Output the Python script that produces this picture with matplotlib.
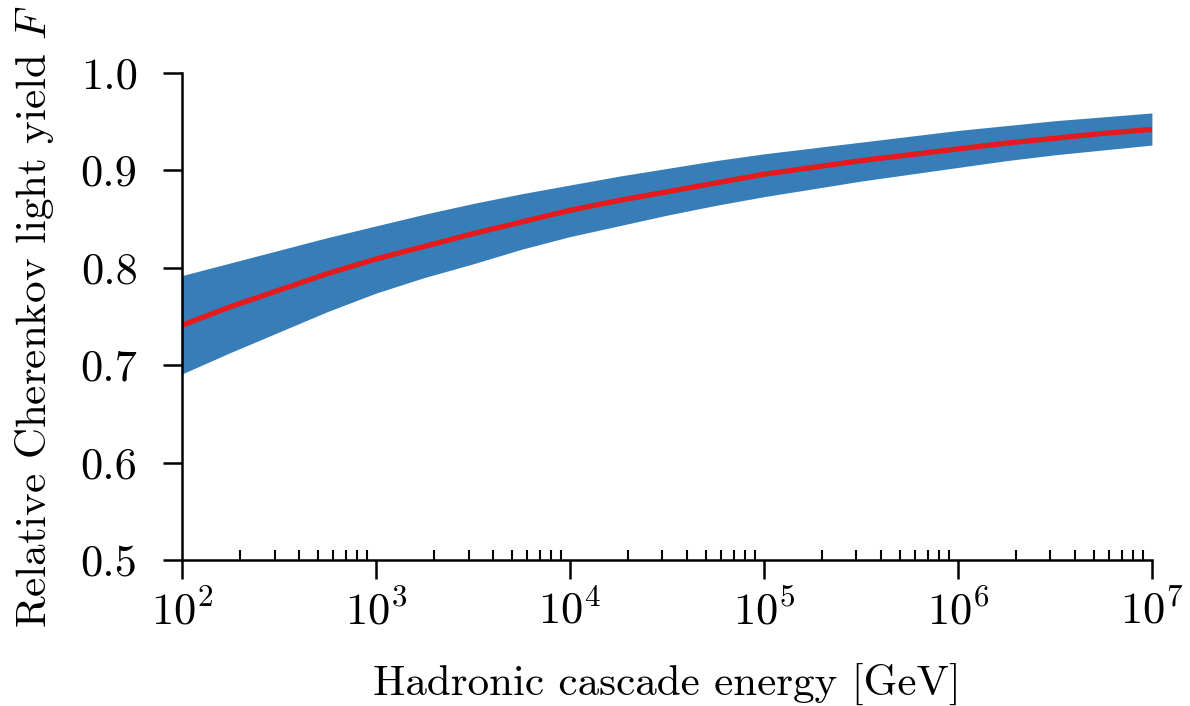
import numpy as np
import matplotlib
matplotlib.use("Agg")
import matplotlib.pyplot as plt
from matplotlib.ticker import LogLocator, NullFormatter

plt.rcParams['font.family'] = 'cmr10'
plt.rcParams['mathtext.fontset'] = 'cm'
plt.rcParams['axes.formatter.use_mathtext'] = True

# values, quarter-decade steps from 1e2 to 1e7 GeV
log_energy = [2.0, 2.25, 2.5, 2.75, 3.0, 3.25, 3.5, 3.75, 4.0, 4.25, 4.5,
              4.75, 5.0, 5.25, 5.5, 5.75, 6.0, 6.25, 6.5, 6.75, 7.0]
yield_mean = [0.741, 0.760, 0.777, 0.794, 0.809, 0.822, 0.835, 0.847, 0.859, 0.869, 0.878,
              0.887, 0.896, 0.903, 0.910, 0.916, 0.922, 0.928, 0.933, 0.938, 0.942]
yield_upper = [0.792, 0.805, 0.818, 0.831, 0.843, 0.855, 0.866, 0.876, 0.885, 0.894, 0.902,
               0.910, 0.917, 0.923, 0.929, 0.935, 0.941, 0.946, 0.951, 0.955, 0.959]
yield_lower = [0.691, 0.713, 0.734, 0.755, 0.774, 0.790, 0.804, 0.819, 0.832, 0.843, 0.854,
               0.864, 0.873, 0.881, 0.889, 0.896, 0.903, 0.910, 0.916, 0.921, 0.926]

y_ticks = [0.5, 0.6, 0.7, 0.8, 0.9, 1.0]

energy_gev = np.power(10.0, log_energy)

fig = plt.figure(figsize=(11.9, 7.06), dpi=100)
ax = fig.add_axes([0.1529, 0.2068, 0.968 - 0.1529, 0.8966 - 0.2068])

ax.fill_between(energy_gev, yield_lower, yield_upper, color='#377eb8', linewidth=0)
ax.plot(energy_gev, yield_mean, color='#e41a1c', linewidth=3.8, solid_capstyle='butt')

ax.set_xscale('log')
ax.set_xlim(1e2, 1e7)
ax.set_ylim(0.5, 1.0)
ax.set_yticks(y_ticks)
ax.set_yticklabels(['%.1f' % v for v in y_ticks])
ax.xaxis.set_minor_locator(LogLocator(base=10, subs=np.arange(2, 10)))
ax.xaxis.set_minor_formatter(NullFormatter())

for side in ['top', 'right']:
    ax.spines[side].set_visible(False)
for side in ['left', 'bottom']:
    ax.spines[side].set_linewidth(1.8)

ax.tick_params(axis='both', which='major', direction='out', length=14, width=1.8,
               labelsize=32)
ax.tick_params(axis='y', which='major', pad=18)
ax.tick_params(axis='x', which='major', pad=8)
ax.tick_params(axis='x', which='minor', direction='in', length=7, width=1.5)
ax.tick_params(axis='y', which='minor', left=False)

ax.set_xlabel('Hadronic cascade energy [GeV]', fontsize=31, labelpad=21)
ax.set_ylabel('Relative Cherenkov light yield $F$', fontsize=31, labelpad=18)

fig.savefig('out.png', dpi=100)
